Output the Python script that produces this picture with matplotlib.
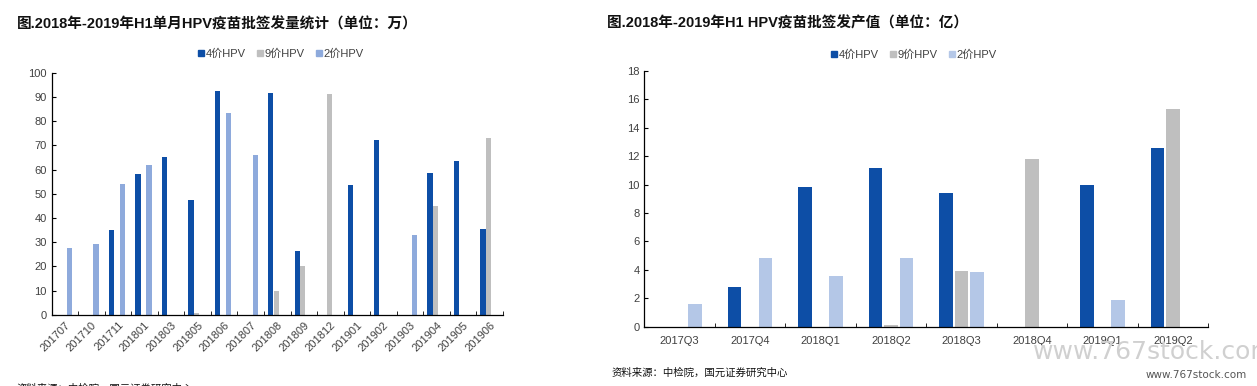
import matplotlib
matplotlib.use('Agg')
import matplotlib.pyplot as plt
from matplotlib.lines import Line2D
import numpy as np

plt.rcParams['font.family'] = ['Liberation Sans', 'Noto Sans CJK SC', 'DejaVu Sans']

# monthly batch release (10k doses)
months = ['201707', '201710', '201711', '201801', '201803', '201805', '201806', '201807',
          '201808', '201809', '201812', '201901', '201902', '201903', '201904', '201905', '201906']
m_hpv4 = [0, 0, 35, 58, 65, 47.5, 92.3, 0, 91.5, 26.3, 0, 53.7, 72, 0, 58.5, 63.5, 35.5]
m_hpv9 = [0, 0, 0, 0, 0, 0.8, 0, 0, 10, 20, 91.2, 0, 0, 0, 45, 0, 73]
m_hpv2 = [27.7, 29.4, 54.2, 62, 0, 0, 83.4, 66, 0, 0, 0, 0, 0, 33, 0, 0, 0]

# quarterly output value (100m yuan)
quarters = ['2017Q3', '2017Q4', '2018Q1', '2018Q2', '2018Q3', '2018Q4', '2019Q1', '2019Q2']
q_hpv4 = [0, 2.8, 9.8, 11.15, 9.4, 0, 10.0, 12.55]
q_hpv9 = [0, 0, 0, 0.1, 3.9, 11.8, 0, 15.3]
q_hpv2 = [1.6, 4.85, 3.6, 4.85, 3.85, 0, 1.9, 0]

labels = ['4价HPV', '9价HPV', '2价HPV']
c4 = '#0d4ea6'
c9 = '#bfbfbf'
c2_left = '#8eaadc'
c2_right = '#b4c7e7'
txt = '#404040'

fig = plt.figure(figsize=(12.57, 3.86), dpi=100)


def style_axes(ax, n):
    for s in ['top', 'right']:
        ax.spines[s].set_visible(False)
    ax.spines['left'].set_color('#000000')
    ax.spines['bottom'].set_color('#000000')
    ax.spines['left'].set_linewidth(0.9)
    ax.spines['bottom'].set_linewidth(0.9)
    ax.set_xlim(-0.5, n - 0.5)
    ax.set_xticks(np.arange(n + 1) - 0.5, minor=True)
    ax.tick_params(axis='x', which='minor', direction='in', length=3, color='#000000')
    ax.tick_params(axis='x', which='major', length=0, colors=txt, labelsize=8)
    ax.tick_params(axis='y', direction='in', length=3, colors=txt, labelsize=8)
    ax.tick_params(axis='y', color='#000000')


# left chart
ax1 = fig.add_axes([0.0411, 0.184, 0.359, 0.628])
x = np.arange(len(months))
w = 0.21
ax1.bar(x - 0.04 - w, m_hpv4, w * 0.95, color=c4)
ax1.bar(x - 0.04, m_hpv9, w * 0.95, color=c9)
ax1.bar(x - 0.04 + w, m_hpv2, w * 0.95, color=c2_left)
ax1.set_ylim(0, 100)
ax1.set_yticks(range(0, 101, 10))
style_axes(ax1, len(months))
ax1.set_xticks(x)
ax1.set_xticklabels(months, rotation=45, ha='right', rotation_mode='anchor')

# right chart
ax2 = fig.add_axes([0.5126, 0.1536, 0.4487, 0.6625])
x2 = np.arange(len(quarters))
p = 0.22
w2 = 0.19
ax2.bar(x2 - p, q_hpv4, w2, color=c4)
ax2.bar(x2, q_hpv9, w2, color=c9)
ax2.bar(x2 + p, q_hpv2, w2, color=c2_right)
ax2.set_ylim(0, 18)
ax2.set_yticks(range(0, 19, 2))
style_axes(ax2, len(quarters))
ax2.set_xticks(x2)
ax2.set_xticklabels(quarters)
ax2.tick_params(axis='x', which='major', pad=7)

# legends
def legend_handles(cols):
    return [Line2D([], [], marker='s', linestyle='none', markersize=5,
                   markerfacecolor=c, markeredgecolor=c) for c in cols]

fig.legend(legend_handles([c4, c9, c2_left]), labels, loc='center',
           bbox_to_anchor=(281 / 1257, 1 - 54 / 386), ncol=3, frameon=False,
           fontsize=8, handlelength=0.6, handletextpad=0.1, columnspacing=1.0,
           labelcolor=txt)
fig.legend(legend_handles([c4, c9, c2_right]), labels, loc='center',
           bbox_to_anchor=(914 / 1257, 1 - 55 / 386), ncol=3, frameon=False,
           fontsize=8, handlelength=0.6, handletextpad=0.1, columnspacing=1.0,
           labelcolor=txt)

# titles
fig.text(17 / 1257, 1 - 24 / 386, '图.2018年-2019年H1单月HPV疫苗批签发量统计（单位：万）',
         fontsize=10.5, fontweight='bold', va='center', ha='left', color='#111111')
fig.text(607 / 1257, 1 - 23 / 386, '图.2018年-2019年H1 HPV疫苗批签发产值（单位：亿）',
         fontsize=10.5, fontweight='bold', va='center', ha='left', color='#111111')

# sources
fig.text(612 / 1257, 1 - 373 / 386, '资料来源：中检院，国元证券研究中心',
         fontsize=7.5, va='center', ha='left', color='#111111')
fig.text(17 / 1257, 1 - 389 / 386, '资料来源：中检院，国元证券研究中心',
         fontsize=7.5, va='center', ha='left', color='#111111')

# watermark
fig.text(1033 / 1257, 1 - 352 / 386, 'www.767stock.com', fontsize=18,
         family='DejaVu Sans', color='#d0d0d0', va='center', ha='left')
fig.text(1247 / 1257, 1 - 375 / 386, 'www.767stock.com', fontsize=7.5,
         family='DejaVu Sans', color='#555555', va='center', ha='right')

fig.savefig('out.png', dpi=100)
